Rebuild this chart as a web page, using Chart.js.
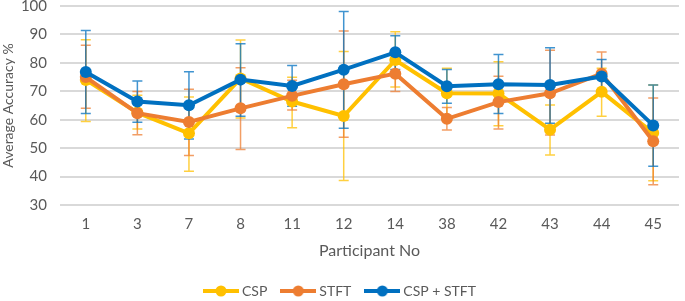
<!DOCTYPE html>
<html>
<head>
<meta charset="utf-8">
<script src="https://cdn.jsdelivr.net/npm/chart.js@4"></script>
<style>
  html, body { margin: 0; padding: 0; background: #ffffff; }
  canvas { display: block; }
</style>
</head>
<body>
<canvas id="acc-chart" width="685" height="301"></canvas>
<script>
// participants on the x axis
var participants = ['1', '3', '7', '8', '11', '12', '14', '38', '42', '43', '44', '45'];

// CSP
var csp     = [74.0, 62.5, 55.2, 74.5, 66.4, 61.3, 81.0, 69.3, 69.2, 56.5, 69.8, 55.3];
var cspHigh = [88.1, 68.6, 68.0, 88.0, 74.9, 84.0, 90.9, 78.1, 80.4, 65.2, 78.1, 72.2];
var cspLow  = [59.4, 56.7, 41.9, 60.6, 57.2, 38.6, 71.5, 61.0, 57.9, 47.6, 61.2, 38.5];

// STFT
var stft     = [75.0, 62.3, 59.2, 64.0, 68.4, 72.5, 76.2, 60.3, 66.2, 69.3, 76.2, 52.4];
var stftHigh = [86.2, 69.9, 70.7, 78.3, 73.9, 91.2, 82.5, 64.3, 75.3, 84.4, 83.8, 67.6];
var stftLow  = [64.0, 54.7, 47.4, 49.5, 63.4, 53.8, 69.9, 56.4, 56.7, 54.6, 69.0, 37.1];

// CSP + STFT
var combined     = [76.8, 66.4, 65.1, 74.1, 71.9, 77.6, 83.7, 71.8, 72.5, 72.2, 75.2, 58.0];
var combinedHigh = [91.4, 73.6, 76.9, 86.7, 79.1, 98.1, 89.5, 77.7, 82.9, 85.3, 81.2, 72.2];
var combinedLow  = [62.2, 59.1, 53.2, 61.2, 64.7, 57.0, 77.7, 65.8, 62.2, 58.8, 69.2, 43.6];

var yTicks = [30, 40, 50, 60, 70, 80, 90, 100];

var FONT = 'Lato, "Open Sans", sans-serif';
var GREY = '#595959';

// little line + dot picture for the legend
function legendSymbol(color) {
    var c = document.createElement('canvas');
    c.width = 36;
    c.height = 12;
    var g = c.getContext('2d');
    g.strokeStyle = color;
    g.lineWidth = 4;
    g.beginPath();
    g.moveTo(0, 6);
    g.lineTo(36, 6);
    g.stroke();
    g.fillStyle = color;
    g.beginPath();
    g.arc(18, 6, 5.5, 0, Math.PI * 2);
    g.fill();
    return c;
}

// error bars, drawn under the lines
var errorBars = {
    id: 'errorBars',
    beforeDatasetsDraw: function (chart) {
        var ctx = chart.ctx;
        var xs = chart.scales.x;
        var ys = chart.scales.y;
        chart.data.datasets.forEach(function (ds) {
            ctx.save();
            ctx.strokeStyle = ds.errColor;
            ctx.lineWidth = 1.5;
            ds.data.forEach(function (v, i) {
                var x = xs.getPixelForValue(i);
                var yHi = ys.getPixelForValue(ds.high[i]);
                var yLo = ys.getPixelForValue(ds.low[i]);
                ctx.beginPath();
                ctx.moveTo(x, yHi);
                ctx.lineTo(x, yLo);
                ctx.moveTo(x - 5, yHi);
                ctx.lineTo(x + 5, yHi);
                ctx.moveTo(x - 5, yLo);
                ctx.lineTo(x + 5, yLo);
                ctx.stroke();
            });
            ctx.restore();
        });
    }
};

function series(label, data, high, low, color, errColor, order) {
    return {
        label: label,
        data: data,
        high: high,
        low: low,
        errColor: errColor,
        order: order,
        borderColor: color,
        backgroundColor: color,
        borderWidth: 4,
        pointRadius: 6,
        pointHoverRadius: 6,
        pointBorderWidth: 0,
        tension: 0,
        fill: false
    };
}

var chart = new Chart(document.getElementById('acc-chart'), {
    type: 'line',
    data: {
        labels: participants,
        datasets: [
            series('CSP', csp, cspHigh, cspLow, '#FFC000', 'rgba(255, 192, 0, 0.75)', 3),
            series('STFT', stft, stftHigh, stftLow, '#ED7D31', 'rgba(237, 125, 49, 0.75)', 2),
            series('CSP + STFT', combined, combinedHigh, combinedLow, '#0070C0', 'rgba(0, 112, 192, 0.75)', 1)
        ]
    },
    options: {
        responsive: false,
        animation: false,
        layout: { padding: { top: 4, right: 2, bottom: -7, left: 0 } },
        plugins: {
            tooltip: { enabled: false },
            legend: {
                position: 'bottom',
                labels: {
                    color: GREY,
                    font: { family: FONT, size: 14 },
                    usePointStyle: true,
                    pointStyleWidth: 28,
                    padding: 17,
                    generateLabels: function (c) {
                        return c.data.datasets.map(function (ds, i) {
                            return {
                                text: ds.label,
                                fontColor: GREY,
                                pointStyle: legendSymbol(ds.borderColor),
                                datasetIndex: i,
                                lineWidth: 0,
                                strokeStyle: ds.borderColor,
                                fillStyle: ds.borderColor
                            };
                        });
                    }
                }
            }
        },
        scales: {
            x: {
                offset: true,
                afterFit: function (s) { s.height = 62; s.paddingTop = 0; s.paddingBottom = 0; },
                grid: { display: false },
                border: { display: false },
                ticks: { color: GREY, font: { family: FONT, size: 15 }, padding: 2 },
                title: {
                    display: true,
                    text: 'Participant No',
                    color: GREY,
                    font: { family: FONT, size: 16 },
                    padding: { top: 4, bottom: 7 }
                }
            },
            y: {
                min: 30,
                max: 100,
                afterFit: function (s) { s.width = 60; s.paddingTop = 0; s.paddingBottom = 0; },
                afterBuildTicks: function (s) {
                    s.ticks = yTicks.map(function (v) { return { value: v }; });
                },
                grid: { color: '#d9d9d9', lineWidth: 2, drawTicks: false },
                border: { display: false },
                ticks: { color: GREY, font: { family: FONT, size: 15 }, padding: 13 },
                title: {
                    display: true,
                    text: 'Average Accuracy %',
                    color: GREY,
                    font: { family: FONT, size: 14 },
                    padding: 0
                }
            }
        }
    },
    plugins: [errorBars]
});
</script>
</body>
</html>
